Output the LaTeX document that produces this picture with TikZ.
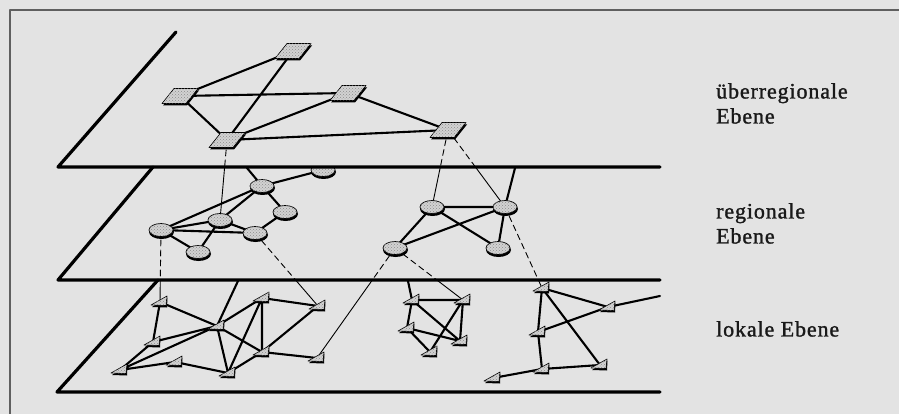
\documentclass[tikz,border=0pt]{standalone}
\usepackage{fontspec}
\setmainfont{Liberation Serif}
\usetikzlibrary{patterns}
\definecolor{paper}{RGB}{227,227,227}
\definecolor{framegray}{RGB}{95,95,95}
\definecolor{dotgray}{RGB}{210,210,210}
\tikzset{
  every picture/.style={line join=round, line cap=round},
  plane/.style={line width=3.2pt},
  link/.style={line width=2.1pt},
  drop/.style={line width=0.9pt, dash pattern=on 6pt off 4pt},
  dropin/.style={line width=0.9pt},
  dotfill/.style={fill=dotgray, postaction={pattern=crosshatch dots, pattern color=black!45}},
  lbl/.style={font=\fontsize{22}{25}\selectfont\addfontfeature{LetterSpace=4,FakeBold=1.3}, text=black!90, anchor=north west, inner sep=0pt, align=left},
  topbox/.pic={
    \fill[black] (-5,-5.5)--(19,-5.5)--(7,9.5)--(-17,9.5)--cycle;
    \draw[dotfill, line width=0.6pt] (-6,-7.5)--(18,-7.5)--(6,7.5)--(-18,7.5)--cycle;
  },
  regbox/.pic={
    \fill[black] (0.5,2) ellipse [x radius=12.5, y radius=7];
    \draw[dotfill, line width=0.7pt] (0,0) ellipse [x radius=12, y radius=6.5];
  },
  lokbox/.pic={
    \fill[black] (-8,5)--(7.5,-4.5)--(7,5.5)--cycle;
    \draw[dotfill, line width=0.6pt] (-9,3)--(7,-6)--(6,3.5)--cycle;
  },
}

\begin{document}
\begin{tikzpicture}[x=1pt, y=-1pt]
\useasboundingbox (0,0) rectangle (899,414);
\fill[paper] (0,0) rectangle (899,414);
\draw[framegray, line width=1.5pt, line cap=butt] (10,414)--(10,10)--(899,10);

% Ebenen
\coordinate (P1t) at (176,32);
\coordinate (P1l) at (58,167);
\coordinate (P1r) at (660,167);
\coordinate (P2t) at (153,167);
\coordinate (P2l) at (58,280);
\coordinate (P2r) at (660,280);
\coordinate (P3t) at (158,280);
\coordinate (P3l) at (57,392);
\coordinate (P3r) at (660,392);

% ueberregional
\coordinate (A) at (293,51);
\coordinate (B) at (180,96);
\coordinate (C) at (348,93);
\coordinate (D) at (227,140);
\coordinate (E) at (448,130);

% regional
\coordinate (ra) at (161,230);
\coordinate (rb) at (220,220);
\coordinate (rc) at (262,186);
\coordinate (rd) at (285,212);
\coordinate (re) at (255,233);
\coordinate (rf) at (198,252);
\coordinate (rg) at (323,170);
\coordinate (rh) at (432,207);
\coordinate (ri) at (505,207);
\coordinate (rj) at (395,248);
\coordinate (rk) at (498,248);

% lokal
\coordinate (l1) at (160,302);
\coordinate (l2) at (217,326);
\coordinate (l3) at (262,298);
\coordinate (l4) at (318,306);
\coordinate (l5) at (153,342);
\coordinate (l6) at (262,352);
\coordinate (l7) at (317,358);
\coordinate (l8) at (120,370);
\coordinate (l9) at (175,362);
\coordinate (l10) at (228,373);
\coordinate (m1) at (412,300);
\coordinate (m2) at (463,300);
\coordinate (m3) at (407,328);
\coordinate (m4) at (460,341);
\coordinate (m5) at (430,352);
\coordinate (n1) at (542,288);
\coordinate (n2) at (608,307);
\coordinate (n3) at (538,332);
\coordinate (n4) at (542,369);
\coordinate (n5) at (600,365);
\coordinate (n6) at (493,378);

% Enden hinter der Ebene
\coordinate (h1) at (247,168);
\coordinate (h2) at (515,168);
\coordinate (h3) at (238,281);
\coordinate (h4) at (408,281);
\coordinate (h5) at (660,296);

\draw[link] (A)--(B) (A)--(D) (B)--(C) (B)--(D) (C)--(D) (C)--(E) (D)--(E);
\draw[link] (ra)--(rc) (ra)--(rb) (ra)--(re) (ra)--(rf) (rb)--(rc) (rb)--(re)
  (rf)--(rb) (rc)--(rd) (rd)--(re) (rc)--(rg) (rc)--(h1);
\draw[link] (rh)--(ri) (rh)--(rj) (rh)--(rk) (rj)--(ri) (ri)--(rk) (ri)--(h2);
\draw[link] (l1)--(l2) (l1)--(l5) (l2)--(h3) (l2)--(l3) (l2)--(l6) (l2)--(l10)
  (l2)--(l8) (l2)--(l5) (l8)--(l5) (l8)--(l9) (l9)--(l10) (l3)--(l4) (l3)--(l6)
  (l3)--(l10) (l4)--(l6) (l6)--(l7) (l10)--(l6);
\draw[link] (m1)--(h4) (m1)--(m2) (m1)--(m3) (m1)--(m4) (m2)--(m4) (m2)--(m5)
  (m3)--(m4) (m3)--(m5);
\draw[link] (n1)--(n2) (n1)--(n3) (n1)--(n5) (n3)--(n4) (n4)--(n5) (n4)--(n6)
  (n3)--(n2) (n2)--(h5);

% Verbindungen zwischen den Ebenen
\coordinate (x1) at (intersection of D--rb and P1l--P1r);
\coordinate (x2) at (intersection of E--rh and P1l--P1r);
\coordinate (x3) at (intersection of E--ri and P1l--P1r);
\coordinate (x4) at (intersection of ra--l1 and P2l--P2r);
\coordinate (x5) at (intersection of re--l4 and P2l--P2r);
\coordinate (x6) at (intersection of rj--l7 and P2l--P2r);
\coordinate (x7) at (intersection of rj--m2 and P2l--P2r);
\coordinate (x8) at (intersection of ri--n1 and P2l--P2r);
\draw[drop] (D)--(x1) (E)--(x2) (E)--(x3) (ra)--(x4) (re)--(x5) (rj)--(x6)
  (rj)--(x7) (ri)--(x8);
\draw[dropin] (x1)--(rb) (x2)--(rh) (x3)--(ri) (x4)--(l1) (x5)--(l4) (x6)--(l7)
  (x7)--(m2) (x8)--(n1);

\pic at (A) {topbox};
\pic at (B) {topbox};
\pic at (C) {topbox};
\pic at (D) {topbox};
\pic at (E) {topbox};
\begin{scope}
\clip (0,168) rectangle (899,414);
\pic at (rg) {regbox};
\end{scope}
\foreach \r in {ra,rb,rc,rd,re,rf,rh,ri,rj,rk}
  \pic at (\r) {regbox};
\foreach \l in {l1,l2,l3,l4,l5,l6,l7,l8,l9,l10,m1,m2,m3,m4,m5,n1,n2,n3,n4,n5,n6}
  \pic at (\l) {lokbox};

\draw[plane] (P1t)--(P1l)--(P1r);
\draw[plane] (P2t)--(P2l)--(P2r);
\draw[plane] (P3t)--(P3l)--(P3r);

\node[lbl] (lev1) at (716,83) {überregionale\\Ebene};
\node[lbl] (lev2) at (716,203) {regionale\\Ebene};
\node[lbl] (lev3) at (716,321) {lokale Ebene};
\end{tikzpicture}
\end{document}
